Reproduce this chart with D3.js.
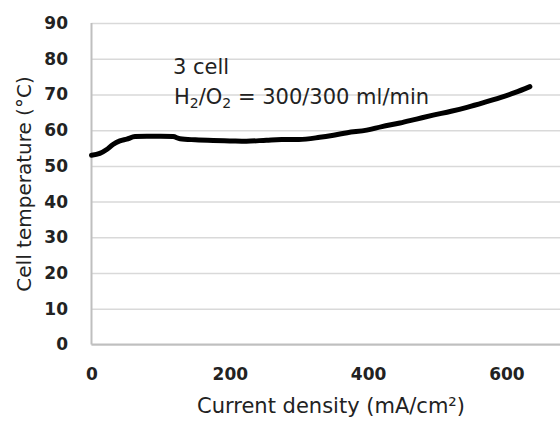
<!DOCTYPE html>
<html>
<head>
<meta charset="utf-8">
<script src="https://cdn.jsdelivr.net/npm/d3@7"></script>
<style>
  body { margin: 0; background: #fff; }
  text { font-family: "DejaVu Sans", sans-serif; fill: #222; }
</style>
</head>
<body>
<div id="chart"></div>
<script>
// data
var currentDensity = [0, 12, 22, 31, 41, 51, 63, 80, 100, 118, 128, 150, 176, 200, 224, 253,
    275, 300, 330, 350, 370, 398, 420, 446, 470, 494, 520, 543, 567, 591, 612, 634];
var cellTemp = [53.0, 53.5, 54.6, 56.0, 57.0, 57.5, 58.2, 58.3, 58.3, 58.2, 57.6, 57.3, 57.1, 57.0, 56.9, 57.2,
    57.4, 57.4, 58.0, 58.6, 59.3, 60.0, 61.0, 62.0, 63.1, 64.2, 65.3, 66.4, 67.7, 69.1, 70.5, 72.2];
var xTicks = [0, 200, 400, 600];
var yTicks = [0, 10, 20, 30, 40, 50, 60, 70, 80, 90];

var width = 560;
var height = 425;

var svg = d3.select("#chart")
    .append("svg")
    .attr("width", width)
    .attr("height", height);

var plotLeft = 91.5, plotBottom = 344.5, plotTop = 23;

var x = d3.scaleLinear().domain([0, 700]).range([plotLeft, plotLeft + 0.6915 * 700]);
var y = d3.scaleLinear().domain([0, 90]).range([plotBottom, plotTop]);

// gridlines + y tick labels
var yAxis = svg.append("g")
    .attr("transform", "translate(" + plotLeft + ",0)")
    .call(d3.axisLeft(y)
        .tickValues(yTicks)
        .tickSize(-(x.range()[1] - plotLeft))
        .tickPadding(23.5));
yAxis.select(".domain").remove();
yAxis.selectAll(".tick line")
    .attr("stroke", "#d9d9d9")
    .attr("stroke-width", 1.5);
yAxis.selectAll(".tick text")
    .style("font-size", "17px")
    .style("font-weight", "bold")
    .attr("fill", "#222");

// x tick labels
var xAxis = svg.append("g")
    .attr("transform", "translate(0," + plotBottom + ")")
    .call(d3.axisBottom(x)
        .tickValues(xTicks)
        .tickSize(0)
        .tickPadding(23.5));
xAxis.select(".domain").remove();
xAxis.selectAll(".tick text")
    .style("font-size", "17px")
    .style("font-weight", "bold")
    .attr("fill", "#222");

// axis lines
svg.append("line")
    .attr("x1", plotLeft).attr("x2", plotLeft)
    .attr("y1", plotTop).attr("y2", plotBottom)
    .attr("stroke", "#bfbfbf").attr("stroke-width", 2);
svg.append("line")
    .attr("x1", plotLeft).attr("x2", x.range()[1])
    .attr("y1", plotBottom).attr("y2", plotBottom)
    .attr("stroke", "#bfbfbf").attr("stroke-width", 2);

// the curve
var line = d3.line()
    .x(function(d, i) { return x(currentDensity[i]); })
    .y(function(d) { return y(d); })
    .curve(d3.curveMonotoneX);

svg.append("path")
    .datum(cellTemp)
    .attr("d", line)
    .attr("fill", "none")
    .attr("stroke", "#000")
    .attr("stroke-width", 5)
    .attr("stroke-linecap", "round")
    .attr("stroke-linejoin", "round");

// axis titles
svg.append("text")
    .attr("x", 331).attr("y", 413)
    .attr("text-anchor", "middle")
    .style("font-size", "21px")
    .text("Current density (mA/cm²)");

svg.append("text")
    .attr("transform", "translate(31,184) rotate(-90)")
    .attr("text-anchor", "middle")
    .style("font-size", "20px")
    .text("Cell temperature (°C)");

// annotation
svg.append("text")
    .attr("x", 173).attr("y", 74)
    .style("font-size", "21px")
    .text("3 cell");

var note = svg.append("text")
    .attr("x", 174).attr("y", 104)
    .style("font-size", "21px");
note.append("tspan").text("H");
note.append("tspan").attr("dy", 4).style("font-size", "14px").text("2");
note.append("tspan").attr("dy", -4).text("/O");
note.append("tspan").attr("dy", 4).style("font-size", "14px").text("2");
note.append("tspan").attr("dy", -4).text(" = 300/300 ml/min");
</script>
</body>
</html>
